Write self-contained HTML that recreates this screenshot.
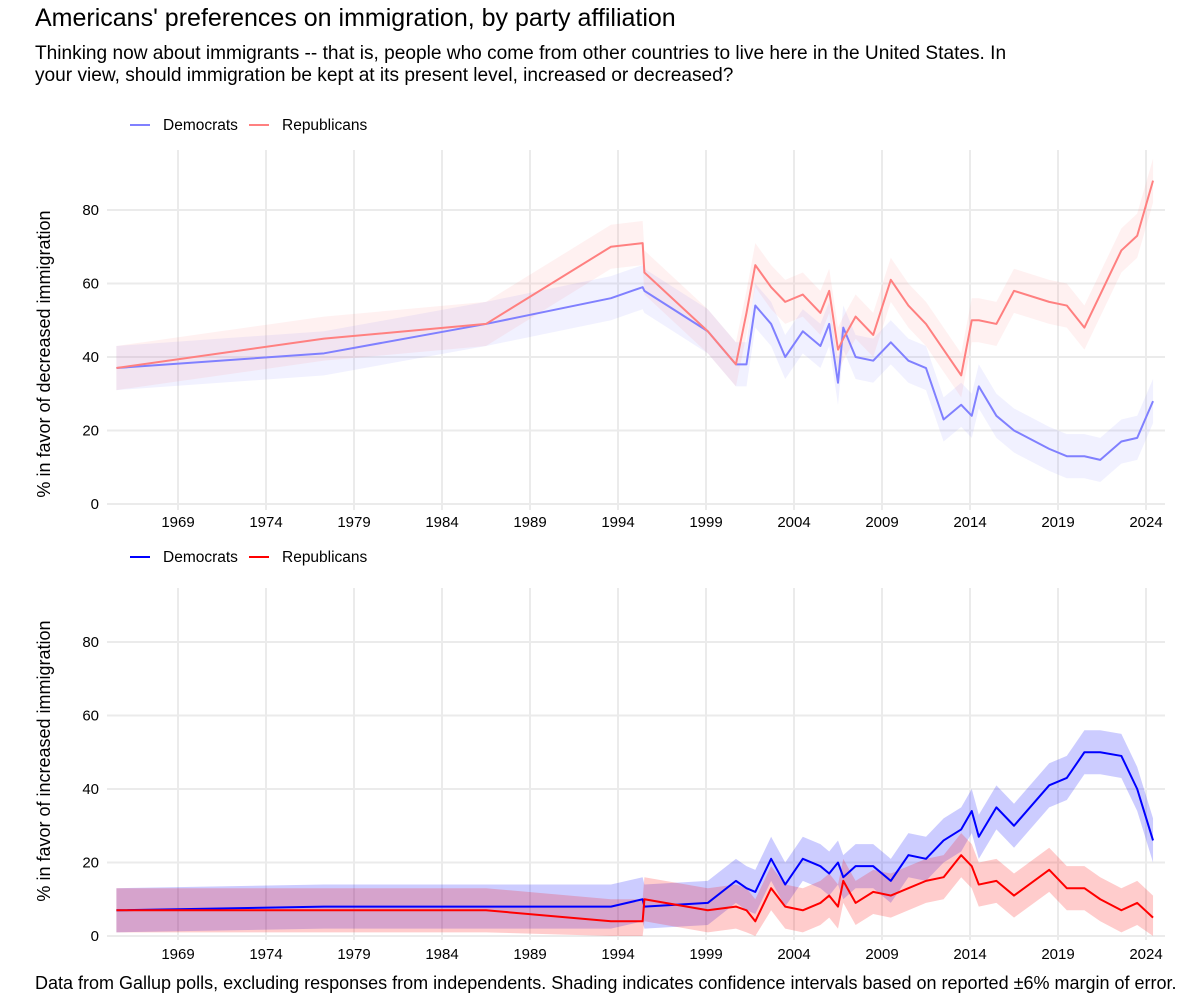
<!DOCTYPE html>
<html><head><meta charset="utf-8"><style>
body{margin:0;background:#fff;font-family:"Liberation Sans",Arial,sans-serif;}
svg text{font-family:"Liberation Sans",Arial,sans-serif;}
</style></head><body>
<svg id="chart" width="1200" height="1000" xmlns="http://www.w3.org/2000/svg">
<rect width="1200" height="1000" fill="#fff"/>
<text x="35" y="26" font-size="25" fill="#000">Americans' preferences on immigration, by party affiliation</text>
<text x="35" y="59" font-size="19.1" fill="#000">Thinking now about immigrants -- that is, people who come from other countries to live here in the United States. In</text>
<text x="35" y="81" font-size="19.1" fill="#000">your view, should immigration be kept at its present level, increased or decreased?</text>
<text x="35" y="989" font-size="18" fill="#000">Data from Gallup polls, excluding responses from independents. Shading indicates confidence intervals based on reported ±6% margin of error.</text>
<g id="top"></g>
<g id="bottom"></g>
</svg>
<script>
const years = [1965.5,1977.3,1986.5,1993.6,1995.4,1995.5,1999.1,2000.7,2001.3,2001.8,2002.7,2003.5,2004.5,2005.5,2006.0,2006.5,2006.8,2007.5,2008.5,2009.5,2010.5,2011.5,2012.5,2013.5,2014.1,2014.5,2015.5,2016.5,2018.5,2019.5,2020.5,2021.4,2022.6,2023.5,2024.4];
const decDem = [37,41,49,56,59,58,47,38,38,54,49,40,47,43,49,33,48,40,39,44,39,37,23,27,24,32,24,20,15,13,13,12,17,18,28];
const decRep = [37,45,49,70,71,63,47,38,52,65,59,55,57,52,58,42,45,51,46,61,54,49,42,35,50,50,49,58,55,54,48,57,69,73,88];
const incDem = [7,8,8,8,10,8,9,15,13,12,21,14,21,19,17,20,16,19,19,15,22,21,26,29,34,27,35,30,41,43,50,50,49,40,26];
const incRep = [7,7,7,4,4,10,7,8,7,4,13,8,7,9,11,8,15,9,12,11,13,15,16,22,19,14,15,11,18,13,13,10,7,9,5];
const xTicks = [1969,1974,1979,1984,1989,1994,1999,2004,2009,2014,2019,2024];
const yTicks = [0,20,40,60,80];
const margin = 6;
const NS='http://www.w3.org/2000/svg';
function xs(y){return 178+(y-1969)*17.6;}
function mk(tag,attrs,parent){const e=document.createElementNS(NS,tag);for(const k in attrs)e.setAttribute(k,attrs[k]);parent.appendChild(e);return e;}
function panel(g,y0,top,bot,series,yTitle,legendY,pfx,titleC){
  const ys=v=>y0-v*3.675;
  xTicks.forEach(t=>{const l=mk('line',{x1:xs(t),x2:xs(t),y1:top,y2:bot,stroke:'#ebebeb','stroke-width':2},g);
    
    
    const tx=mk('text',{x:xs(t),y:y0+23,'font-size':15,'text-anchor':'middle',fill:'#000'},g);tx.textContent=t;
    
    });
  yTicks.forEach(t=>{const l=mk('line',{x1:107,x2:1165,y1:ys(t),y2:ys(t),stroke:'#ebebeb','stroke-width':2},g);
    
    
    const tx=mk('text',{x:99,y:ys(t)+5,'font-size':15,'text-anchor':'end',fill:'#000'},g);tx.textContent=t;
    
    });
  const yt=mk('text',{x:0,y:0,'font-size':18,'text-anchor':'middle',fill:'#000',transform:`translate(50,${titleC}) rotate(-90)`},g);yt.textContent=yTitle;
  
  
  series.forEach(s=>{
    let up=years.map((y,i)=>xs(y)+','+ys(s.vals[i]+margin));
    let lo=years.map((y,i)=>xs(y)+','+ys(Math.max(0,s.vals[i]-margin))).reverse();
    const b=mk('polygon',{points:up.concat(lo).join(' '),fill:s.band},g);
    
    
  });
  series.forEach(s=>{
    const p=mk('polyline',{points:years.map((y,i)=>xs(y)+','+ys(s.vals[i])).join(' '),fill:'none',stroke:s.color,'stroke-width':2,'stroke-linejoin':'round'},g);
    
    
  });
  series.forEach((s,i)=>{
    const lx=[130,249][i];
    const l=mk('line',{x1:lx,x2:lx+20,y1:legendY,y2:legendY,stroke:s.color,'stroke-width':2},g);
    
    
    const t=mk('text',{x:lx+33,y:legendY+5,'font-size':15.5,fill:'#000'},g);t.textContent=s.label;
    
    
  });
}
panel(document.getElementById('top'),504,150,510,[
 {key:'democrats',label:'Democrats',vals:decDem,color:'#8080ff',band:'rgba(128,128,255,0.11)'},
 {key:'republicans',label:'Republicans',vals:decRep,color:'#ff8080',band:'rgba(255,128,128,0.11)'}],
 '% in favor of decreased immigration',125,'decreased',354);
panel(document.getElementById('bottom'),936,588,940,[
 {key:'democrats',label:'Democrats',vals:incDem,color:'#0000ff',band:'rgba(0,0,255,0.2)'},
 {key:'republicans',label:'Republicans',vals:incRep,color:'#ff0000',band:'rgba(255,0,0,0.2)'}],
 '% in favor of increased immigration',557,'increased',761);
</script>
</body></html>
